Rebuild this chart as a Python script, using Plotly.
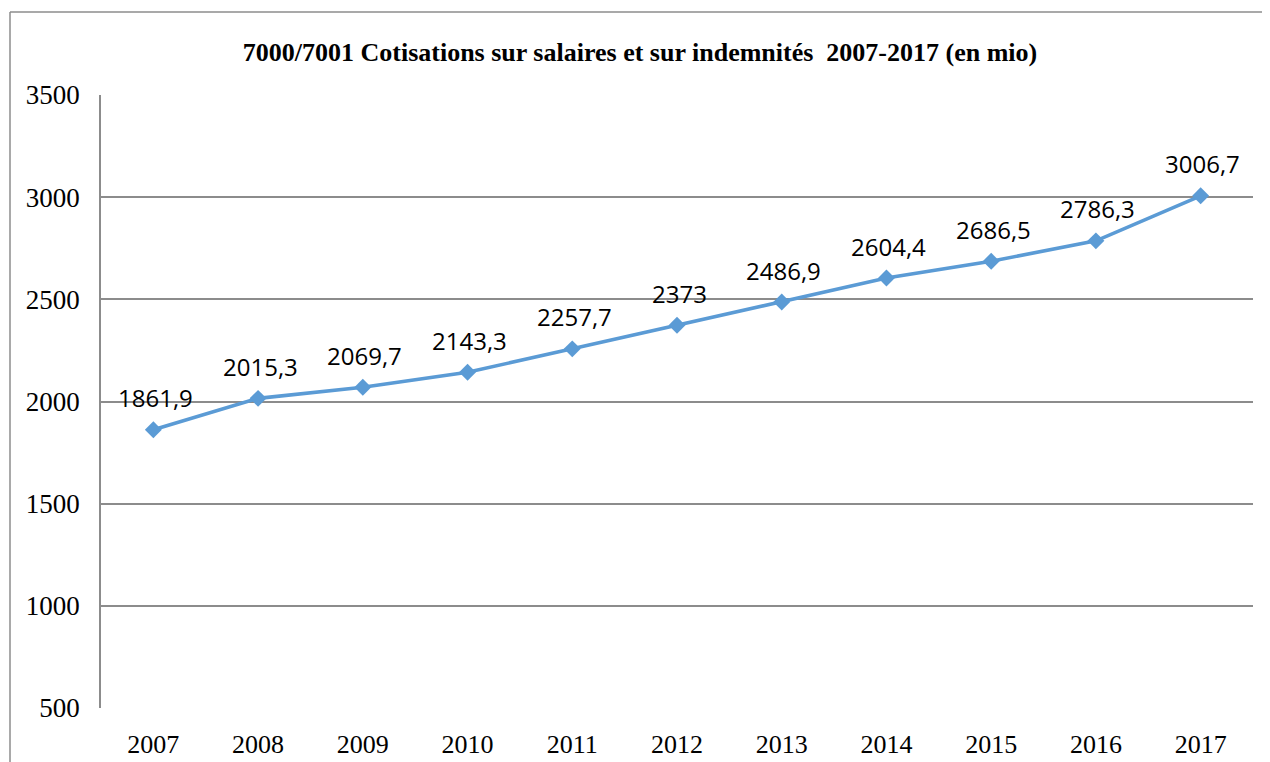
import plotly.graph_objects as go

years = ["2007", "2008", "2009", "2010", "2011", "2012", "2013", "2014", "2015", "2016", "2017"]
values = [1861.9, 2015.3, 2069.7, 2143.3, 2257.7, 2373, 2486.9, 2604.4, 2686.5, 2786.3, 3006.7]
y_ticks = [500, 1000, 1500, 2000, 2500, 3000, 3500]
title_text = "7000/7001 Cotisations sur salaires et sur indemnités  2007-2017 (en mio)"

labels = [f"{v:g}".replace(".", ",") for v in values]

# page body has an 8px margin; figure is placed at (8, 8)
OFF = 8
W, H = 1262, 754
L, R, T, B = 101 - OFF, 17, 95 - OFF, 54
pw, ph = W - L - R, H - T - B

def px_x(px):
    return (px - OFF - L) / pw

def px_y(py):
    return (H - B - (py - OFF)) / ph

fig = go.Figure()
fig.add_trace(go.Scatter(
    x=years, y=values,
    mode="lines+markers",
    line=dict(color="#5B9BD5", width=3.6),
    marker=dict(symbol="diamond", size=13, color="#5B9BD5"),
    cliponaxis=False,
    hoverinfo="x+y",
))

for i, (yv, lab) in enumerate(zip(values, labels)):
    fig.add_annotation(x=i, y=yv, xref="x", yref="y", text=lab, showarrow=False,
                       yshift=32, xshift=2,
                       font=dict(family="Open Sans", size=24, color="#000000"))

frame_color = "#8c8c8c"
fig.add_shape(type="line", xref="paper", yref="paper",
              x0=px_x(10), x1=px_x(10), y0=px_y(12), y1=px_y(775),
              line=dict(color=frame_color, width=1.5))
fig.add_shape(type="line", xref="paper", yref="paper",
              x0=px_x(10), x1=px_x(1280), y0=px_y(12), y1=px_y(12),
              line=dict(color=frame_color, width=1.5))

fig.update_layout(
    width=W, height=H,
    margin=dict(l=L, r=R, t=T, b=B, autoexpand=False),
    paper_bgcolor="white", plot_bgcolor="white",
    showlegend=False,
    title=dict(text="<b>" + title_text + "</b>", x=(640 - OFF) / W, xanchor="center",
               y=1 - (52 - OFF) / H, yanchor="middle",
               font=dict(family="Liberation Serif", size=26, color="#000000")),
    xaxis=dict(type="category", range=[-0.5, 10.5], automargin=False,
               showgrid=False, showline=False, zeroline=False,
               ticks="", ticklabelstandoff=18,
               tickfont=dict(family="Liberation Serif", size=26, color="#000000")),
    yaxis=dict(range=[500, 3500], tickvals=y_ticks, automargin=False,
               showgrid=True, gridcolor="#8c8c8c", gridwidth=1.5,
               showline=True, linecolor="#8c8c8c", linewidth=1.5,
               zeroline=False, ticks="", ticklabelstandoff=14,
               tickfont=dict(family="Liberation Serif", size=27, color="#000000")),
)

fig.write_html("out.html")
